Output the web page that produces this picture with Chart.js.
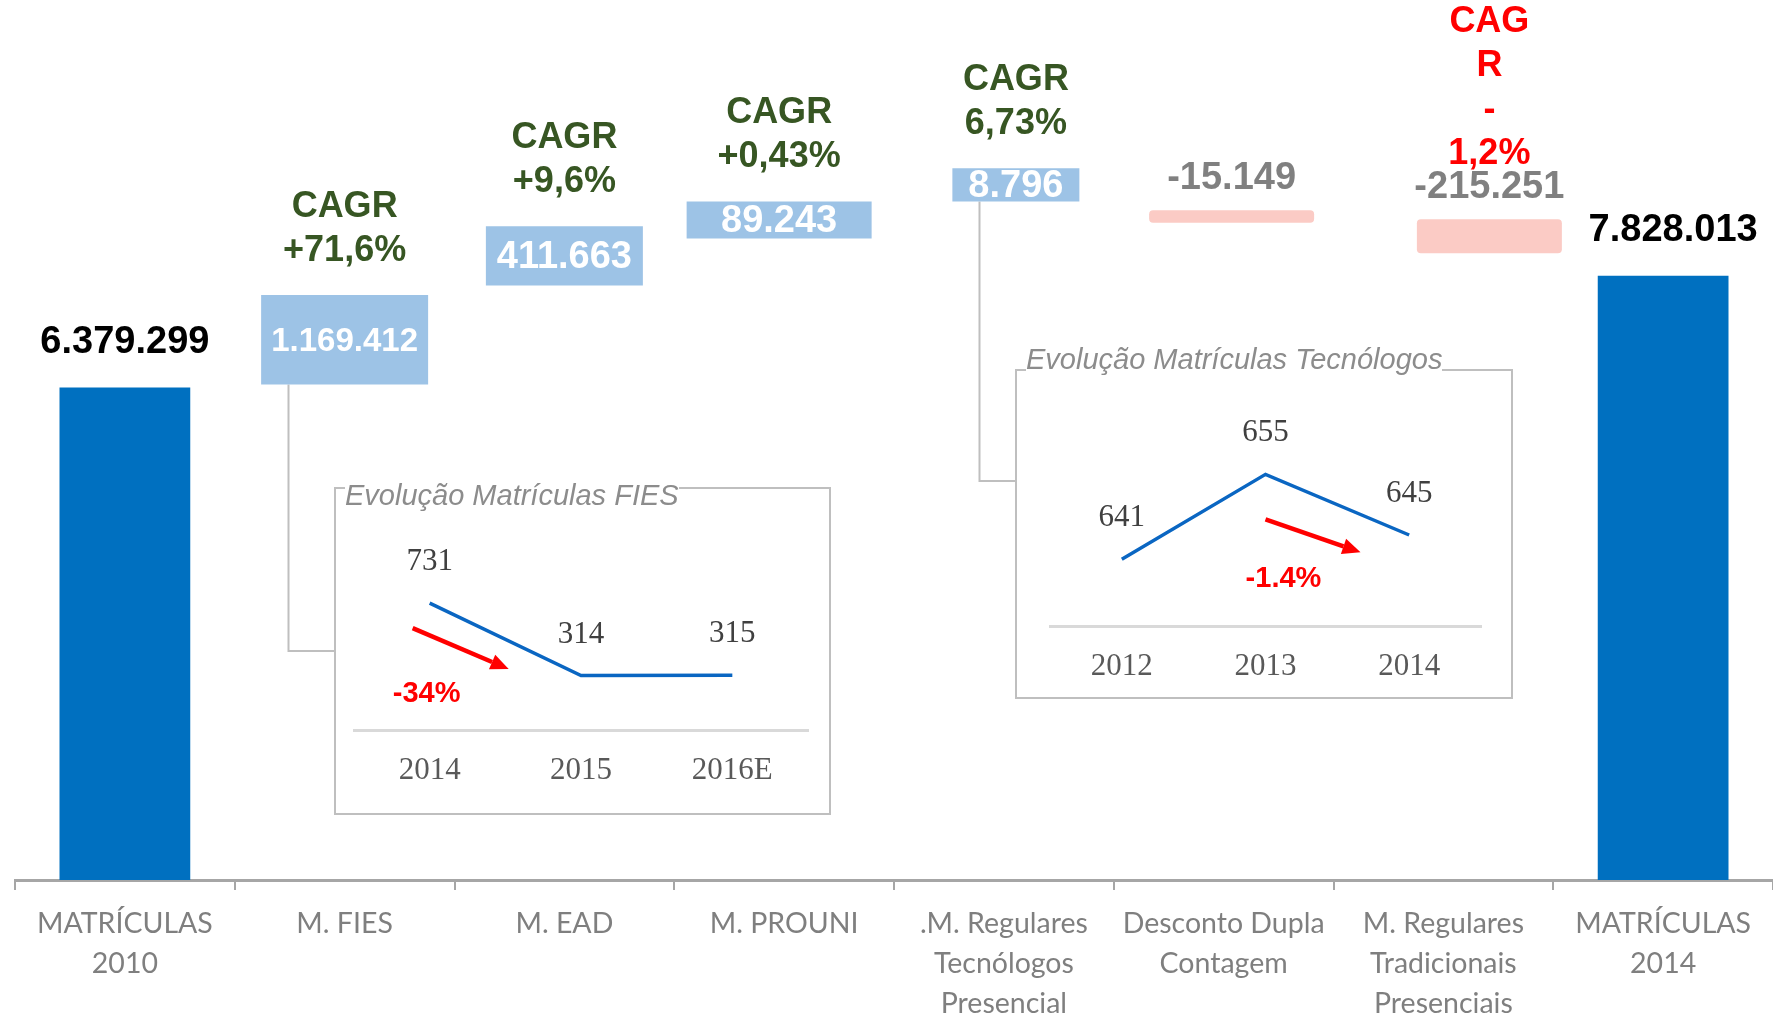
<!DOCTYPE html>
<html lang="pt-BR">
<head>
<meta charset="utf-8">
<title>Evolução de Matrículas 2010 - 2014</title>
<script src="https://cdn.jsdelivr.net/npm/chart.js@4.4.1/dist/chart.umd.min.js"></script>
<style>
  html, body { margin: 0; padding: 0; background: #fff; }
  .palco { position: relative; width: 1773px; height: 1014px; overflow: hidden; }
  #grafico__principal { position: absolute; left: 0; top: 0; }
  .quadro { position: absolute; border: 2px solid #bfbfbf; background: #fff; box-sizing: border-box; }
  .quadro canvas { position: absolute; left: 0; top: 0; }
  .quadro__titulo {
    position: absolute;
    font: italic 29px "Liberation Sans", Arial, sans-serif;
    line-height: 1;
    color: #8c8c8c;
    background: #fff;
    white-space: nowrap;
  }
</style>
</head>
<body>
<div class="palco">
  <canvas id="grafico__principal" width="1773" height="1014"></canvas>
</div>

<script>
"use strict";

// ** Dados

const categorias = [
  ["MATRÍCULAS", "2010"],
  ["M. FIES"],
  ["M. EAD"],
  ["M. PROUNI"],
  [".M. Regulares", "Tecnólogos", "Presencial"],
  ["Desconto Dupla", "Contagem"],
  ["M. Regulares", "Tradicionais", "Presenciais"],
  ["MATRÍCULAS", "2014"],
];
const totais = [6379299, null, null, null, null, null, null, 7828013];
const variacoes = [null, 1169412, 411663, 89243, 8796, -15149, -215251, null];
// onde cada barra flutuante aparece no desenho original
const faixaInicio = [null, 6420000, 7700000, 8310000, 8790000, 8515000, 8120000, null];
const faixaFim = [null, 7580000, 8470000, 8790000, 9220000, 8675000, 8560000, null];
const cagr = [
  null,
  ["CAGR", "+71,6%"],
  ["CAGR", "+9,6%"],
  ["CAGR", "+0,43%"],
  ["CAGR", "6,73%"],
  null,
  ["CAG", "R", "-", "1,2%"],
  null,
];

const anosFies = ["2014", "2015", "2016E"];
const matriculasFies = [731, 314, 315];
const anosTecnologos = ["2012", "2013", "2014"];
const matriculasTecnologos = [641, 655, 645];

// ---------------------------------------------------------- //
const AZUL = "#0070c0";
const AZUL_CLARO = "#9dc3e6";
const ROSA = "#fbcbc5";
const VERDE = "#375623";
const VERMELHO = "#ff0000";
const SANS = "'Liberation Sans', Arial, sans-serif";
const SERIF = "'Liberation Serif', 'Times New Roman', serif";

const palco = document.querySelector(".palco");

// o slide original não tem todas as barras flutuantes iguais
const ajusteBarras = {
  1: { dx: 0, largura: 167 },
  2: { dx: 0, largura: 157 },
  3: { dx: -5, largura: 185 },
  4: { dx: 12, largura: 127 },
  5: { dx: 8, largura: 165 },
  6: { dx: 46, largura: 145 },
};

// caixas com os gráficos pequenos
const quadros = [
  {
    titulo: "Evolução Matrículas FIES",
    anos: anosFies,
    valores: matriculasFies,
    barra: 1,
    esquerda: 334, topo: 487, largura: 497, altura: 328,
    tituloY: -6,
    ligacaoY: 651,
    margens: { left: 18, right: 21, top: 50, bottom: 0 },
    alturaEixo: 83,
    min: 0, max: 1100,
    seta: { ponto: 0, dx: -17, dy: 25, vx: 96, vy: 41, texto: "-34%", tx: 14, ty: 66 },
  },
  {
    titulo: "Evolução Matrículas Tecnólogos",
    anos: anosTecnologos,
    valores: matriculasTecnologos,
    barra: 4,
    esquerda: 1015, topo: 369, largura: 498, altura: 330,
    tituloY: -24,
    ligacaoY: 481,
    margens: { left: 33, right: 30, top: 73, bottom: 0 },
    alturaEixo: 71,
    min: 630, max: 660,
    seta: { ponto: 1, dx: 0, dy: 45, vx: 95, vy: 33, texto: "-1.4%", tx: 18, ty: 60 },
  },
];

// ** Funções

function formatar(valor) {
  const txt = String(Math.abs(valor)).replace(/\B(?=(\d{3})+(?!\d))/g, ".");
  return valor < 0 ? `-${txt}` : txt;
}

function desenharSeta(ctx, x0, y0, x1, y1) {
  const ang = Math.atan2(y1 - y0, x1 - x0);
  const cab = 18;
  const xb = x1 - Math.cos(ang) * cab;
  const yb = y1 - Math.sin(ang) * cab;
  ctx.strokeStyle = VERMELHO;
  ctx.fillStyle = VERMELHO;
  ctx.lineWidth = 4.5;
  ctx.beginPath();
  ctx.moveTo(x0, y0);
  ctx.lineTo(xb, yb);
  ctx.stroke();
  ctx.beginPath();
  ctx.moveTo(x1, y1);
  ctx.lineTo(xb + Math.sin(ang) * 8, yb - Math.cos(ang) * 8);
  ctx.lineTo(xb - Math.sin(ang) * 8, yb + Math.cos(ang) * 8);
  ctx.closePath();
  ctx.fill();
}

const ajustePlugin = {
  id: "ajuste",
  afterDatasetsUpdate(chart) {
    const barras = chart.getDatasetMeta(1).data;
    Object.entries(ajusteBarras).forEach(([i, a]) => {
      barras[i].x += a.dx;
      barras[i].width = a.largura;
    });
  },
};

const ligacoesPlugin = {
  id: "ligacoes",
  beforeDatasetsDraw(chart) {
    const { ctx } = chart;
    const barras = chart.getDatasetMeta(1).data;
    ctx.save();
    ctx.strokeStyle = "#bfbfbf";
    ctx.lineWidth = 2;
    quadros.forEach((q) => {
      const bar = barras[q.barra];
      const x = Math.round(bar.x - bar.width / 2 + 27) + 0.5;
      ctx.beginPath();
      ctx.moveTo(x, bar.base);
      ctx.lineTo(x, q.ligacaoY);
      ctx.lineTo(q.esquerda, q.ligacaoY);
      ctx.stroke();
    });
    ctx.restore();
  },
};

const rotulosPlugin = {
  id: "rotulos",
  afterDatasetsDraw(chart) {
    const { ctx } = chart;
    ctx.save();
    ctx.textAlign = "center";
    ctx.textBaseline = "middle";

    chart.getDatasetMeta(0).data.forEach((bar, i) => {
      if (totais[i] === null) return;
      ctx.font = `bold 38px ${SANS}`;
      ctx.fillStyle = "#000";
      ctx.fillText(formatar(totais[i]), bar.x + (i > 0 ? 10 : 0), bar.y - 45);
    });

    chart.getDatasetMeta(1).data.forEach((bar, i) => {
      const v = variacoes[i];
      if (v === null) return;
      const texto = formatar(v);
      const topo = Math.min(bar.y, bar.base);
      let ultimaLinha;
      if (v > 0) {
        let tam = 38;
        ctx.font = `bold ${tam}px ${SANS}`;
        const larg = ctx.measureText(texto).width;
        if (larg > bar.width - 18) tam = Math.floor((tam * (bar.width - 18)) / larg);
        ctx.font = `bold ${tam}px ${SANS}`;
        ctx.fillStyle = "#fff";
        ctx.fillText(texto, bar.x, (bar.y + bar.base) / 2 + 2);
        ultimaLinha = topo - 44;
      } else {
        ctx.font = `bold 38px ${SANS}`;
        ctx.fillStyle = "#808080";
        ctx.fillText(texto, bar.x, topo - 32);
        ultimaLinha = topo - 65;
      }
      const linhas = cagr[i];
      if (!linhas) return;
      ctx.font = `bold 36px ${SANS}`;
      ctx.fillStyle = linhas.some((l) => l.includes("-")) ? VERMELHO : VERDE;
      linhas.forEach((l, k) => {
        ctx.fillText(l, bar.x, ultimaLinha - (linhas.length - 1 - k) * 44);
      });
    });
    ctx.restore();
  },
};

function criarQuadro(q) {
  const caixa = document.createElement("div");
  caixa.className = "quadro";
  caixa.style.left = `${q.esquerda}px`;
  caixa.style.top = `${q.topo}px`;
  caixa.style.width = `${q.largura}px`;
  caixa.style.height = `${q.altura}px`;
  const canvas = document.createElement("canvas");
  canvas.width = q.largura - 4;
  canvas.height = q.altura - 4;
  caixa.appendChild(canvas);
  palco.appendChild(caixa);

  const titulo = document.createElement("span");
  titulo.className = "quadro__titulo";
  titulo.textContent = q.titulo;
  titulo.style.left = `${q.esquerda + 11}px`;
  titulo.style.top = `${q.topo + q.tituloY}px`;
  palco.appendChild(titulo);

  const rotulosMini = {
    id: "rotulosMini",
    afterDatasetsDraw(chart) {
      const { ctx } = chart;
      const pts = chart.getDatasetMeta(0).data;
      ctx.save();
      ctx.textAlign = "center";
      ctx.textBaseline = "middle";
      ctx.font = `31px ${SERIF}`;
      ctx.fillStyle = "#404040";
      pts.forEach((p, i) => ctx.fillText(String(q.valores[i]), p.x, p.y - 41));

      const s = q.seta;
      const p = pts[s.ponto];
      const x0 = p.x + s.dx;
      const y0 = p.y + s.dy;
      desenharSeta(ctx, x0, y0, x0 + s.vx, y0 + s.vy);
      ctx.font = `bold 29px ${SANS}`;
      ctx.fillStyle = VERMELHO;
      ctx.fillText(s.texto, x0 + s.tx, y0 + s.ty);
      ctx.restore();
    },
  };

  new Chart(canvas.getContext("2d"), {
    type: "line",
    data: {
      labels: q.anos,
      datasets: [
        {
          data: q.valores,
          borderColor: "#0a66c2",
          borderWidth: 3.5,
          pointRadius: 0,
          tension: 0,
        },
      ],
    },
    options: {
      responsive: false,
      animation: false,
      layout: { padding: q.margens },
      plugins: { legend: { display: false }, tooltip: { enabled: false } },
      scales: {
        x: {
          offset: true,
          border: { display: true, color: "#d9d9d9", width: 3 },
          grid: { display: false },
          ticks: { color: "#595959", font: { family: SERIF, size: 31 }, padding: 14 },
          afterFit: (scale) => {
            scale.height = q.alturaEixo;
          },
        },
        y: { display: false, min: q.min, max: q.max },
      },
    },
    plugins: [rotulosMini],
  });
}

// ** Gráfico principal

const config = {
  type: "bar",
  data: {
    labels: categorias,
    datasets: [
      {
        data: totais,
        backgroundColor: AZUL,
        barPercentage: 0.595,
        categoryPercentage: 1,
        grouped: false,
      },
      {
        data: faixaInicio.map((v, i) => (v === null ? null : [v, faixaFim[i]])),
        backgroundColor: (c) => (variacoes[c.dataIndex] < 0 ? ROSA : AZUL_CLARO),
        borderRadius: (c) => (variacoes[c.dataIndex] < 0 ? 4 : 0),
        borderSkipped: false,
        barPercentage: 0.72,
        categoryPercentage: 1,
        grouped: false,
      },
    ],
  },
  options: {
    responsive: false,
    animation: false,
    layout: { padding: { left: 15, right: 0, top: 0, bottom: 0 } },
    plugins: { legend: { display: false }, tooltip: { enabled: false } },
    scales: {
      x: {
        offset: true,
        border: { display: true, color: "#a6a6a6", width: 3 },
        grid: {
          display: true,
          drawOnChartArea: false,
          drawTicks: true,
          tickLength: 10,
          offset: true,
          color: "#a6a6a6",
          lineWidth: 2,
        },
        ticks: {
          color: "#7f7f7f",
          font: { family: "Lato, 'Open Sans', sans-serif", size: 28.5, lineHeight: 1.4 },
          padding: 14,
          maxRotation: 0,
          autoSkip: false,
        },
        afterFit: (scale) => {
          scale.height = 134;
        },
      },
      y: { display: false, min: 0, max: 11400000 },
    },
  },
  plugins: [ajustePlugin, ligacoesPlugin, rotulosPlugin],
};

const ctx = document.getElementById("grafico__principal").getContext("2d");
new Chart(ctx, config);

quadros.forEach(criarQuadro);
</script>
</body>
</html>
